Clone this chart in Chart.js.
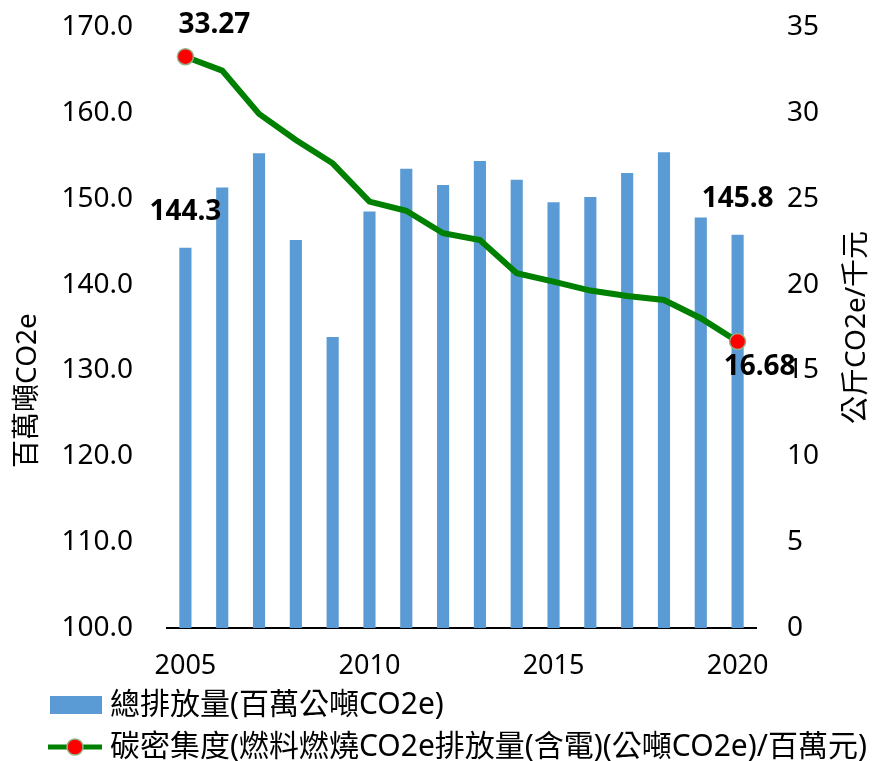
<!DOCTYPE html>
<html>
<head>
<meta charset="utf-8">
<script src="https://cdn.jsdelivr.net/npm/chart.js@4/dist/chart.umd.min.js"></script>
<style>
  body { margin: 0; background: #fff; }
  #wrap { width: 874px; height: 761px; }
</style>
</head>
<body>
<div id="wrap"><canvas id="chart"></canvas></div>
<script>
// data
const years = ['2005', '2006', '2007', '2008', '2009', '2010', '2011', '2012',
               '2013', '2014', '2015', '2016', '2017', '2018', '2019', '2020'];
const totalEmission = [144.3, 151.3, 155.3, 145.2, 133.9, 148.5, 153.5, 151.6,
                       154.4, 152.2, 149.6, 150.2, 153.0, 155.4, 147.8, 145.8];
const carbonIntensity = [33.27, 32.46, 29.94, 28.42, 27.06, 24.83, 24.30, 22.99,
                         22.60, 20.66, 20.17, 19.65, 19.34, 19.10, 18.04, 16.68];

// axis ranges / tick steps
const leftAxis = { min: 100, max: 170, step: 10 };
const rightAxis = { min: 0, max: 35, step: 5 };

const barLabel = '總排放量(百萬公噸CO2e)';
const lineLabel = '碳密集度(燃料燃燒CO2e排放量(含電)(公噸CO2e)/百萬元)';
const leftTitle = '百萬噸CO2e';
const rightTitle = '公斤CO2e/千元';

const FONT = '"Noto Sans", "Noto Sans CJK TC", sans-serif';
const barColor = '#5B9BD5';
const lineColor = '#008000';
const dotColor = '#FF0000';
const dotBorder = '#93AF86';

Chart.defaults.color = '#000';
Chart.defaults.font.family = FONT;

// legend swatches drawn on small canvases (transparent margin on the left
// pushes the visible part to the right of the legend box centre)
function barSwatch() {
  const c = document.createElement('canvas');
  c.width = 60; c.height = 18;
  const g = c.getContext('2d');
  g.fillStyle = barColor;
  g.fillRect(8, 0, 52, 18);
  return c;
}

function lineSwatch() {
  const c = document.createElement('canvas');
  c.width = 60; c.height = 20;
  const g = c.getContext('2d');
  g.strokeStyle = lineColor;
  g.lineWidth = 5;
  g.beginPath(); g.moveTo(6, 10); g.lineTo(60, 10); g.stroke();
  g.fillStyle = dotColor;
  g.beginPath(); g.arc(33, 10, 8, 0, Math.PI * 2); g.fill();
  g.strokeStyle = dotBorder; g.lineWidth = 1.5; g.stroke();
  return c;
}

// value labels on first and last year only
const endLabels = {
  id: 'endLabels',
  afterDatasetsDraw(chart) {
    const ctx = chart.ctx;
    const bars = chart.getDatasetMeta(0).data;
    const pts = chart.getDatasetMeta(1).data;
    const last = years.length - 1;
    ctx.save();
    ctx.font = 'bold 28px ' + FONT;
    ctx.fillStyle = '#000';
    ctx.textAlign = 'center';
    ctx.textBaseline = 'middle';
    [0, last].forEach(i => {
      ctx.fillText(totalEmission[i].toFixed(1), bars[i].x, bars[i].y - 36);
    });
    ctx.fillText(carbonIntensity[0].toFixed(2), pts[0].x + 29, pts[0].y - 32);
    ctx.fillText(carbonIntensity[last].toFixed(2), pts[last].x + 22, pts[last].y + 25);
    ctx.restore();
  }
};

// both axis titles read bottom-to-top
const axisTitles = {
  id: 'axisTitles',
  afterDraw(chart) {
    const { ctx, chartArea } = chart;
    const mid = (chartArea.top + chartArea.bottom) / 2;
    ctx.save();
    ctx.font = '28px ' + FONT;
    ctx.fillStyle = '#000';
    ctx.textAlign = 'center';
    ctx.textBaseline = 'middle';

    ctx.save();
    ctx.translate(28, mid + 63);
    ctx.rotate(-Math.PI / 2);
    ctx.fillText(leftTitle, 0, 0);
    ctx.restore();

    ctx.translate(857, mid);
    ctx.rotate(-Math.PI / 2);
    ctx.fillText(rightTitle, 0, 0);
    ctx.restore();
  }
};

const last = years.length - 1;
const isEnd = c => c.dataIndex === 0 || c.dataIndex === last;

// fixed axis widths, no extra label padding above/below the plot
function fitY(width) {
  return s => {
    s.width = width;
    s.paddingTop = 0;
    s.paddingBottom = 0;
  };
}

new Chart(document.getElementById('chart'), {
  data: {
    labels: years,
    datasets: [
      {
        type: 'bar',
        label: barLabel,
        data: totalEmission,
        backgroundColor: barColor,
        yAxisID: 'y',
        barPercentage: 0.33,
        categoryPercentage: 1,
        order: 1
      },
      {
        type: 'line',
        label: lineLabel,
        data: carbonIntensity,
        borderColor: lineColor,
        borderWidth: 6,
        tension: 0,
        yAxisID: 'y2',
        pointRadius: c => isEnd(c) ? 8 : 0,
        pointBackgroundColor: dotColor,
        pointBorderColor: dotBorder,
        pointBorderWidth: 1.5,
        order: 0
      }
    ]
  },
  options: {
    responsive: true,
    maintainAspectRatio: false,
    animation: false,
    layout: { padding: { left: 37, right: 0, top: 27, bottom: -11 } },
    plugins: {
      tooltip: { enabled: false },
      legend: {
        position: 'bottom',
        align: 'start',
        labels: {
          usePointStyle: true,
          pointStyleWidth: 46,
          padding: 12,
          font: { size: 30 },
          color: '#000',
          generateLabels: chart => [
            { text: barLabel, pointStyle: barSwatch(), datasetIndex: 0, lineWidth: 0, fontColor: '#000' },
            { text: lineLabel, pointStyle: lineSwatch(), datasetIndex: 1, lineWidth: 0, fontColor: '#000' }
          ]
        }
      }
    },
    scales: {
      x: {
        offset: true,
        grid: { display: false },
        border: { display: true, color: '#000', width: 2 },
        ticks: {
          autoSkip: false,
          maxRotation: 0,
          padding: 14,
          font: { size: 27 },
          callback: function (v, i) {
            const y = years[i];
            return Number(y) % 5 === 0 ? y : '';
          }
        },
        afterFit: s => { s.height = 50; }
      },
      y: {
        position: 'left',
        min: leftAxis.min,
        max: leftAxis.max,
        grid: { display: false },
        border: { display: false },
        ticks: {
          stepSize: leftAxis.step,
          padding: 26,
          font: { size: 28 },
          callback: v => v.toFixed(1)
        },
        afterFit: fitY(130)
      },
      y2: {
        position: 'right',
        min: rightAxis.min,
        max: rightAxis.max,
        grid: { display: false },
        border: { display: false },
        ticks: {
          stepSize: rightAxis.step,
          padding: 23,
          font: { size: 28 },
          callback: v => String(v)
        },
        afterFit: fitY(118)
      }
    }
  },
  plugins: [endLabels, axisTitles]
});
</script>
</body>
</html>
